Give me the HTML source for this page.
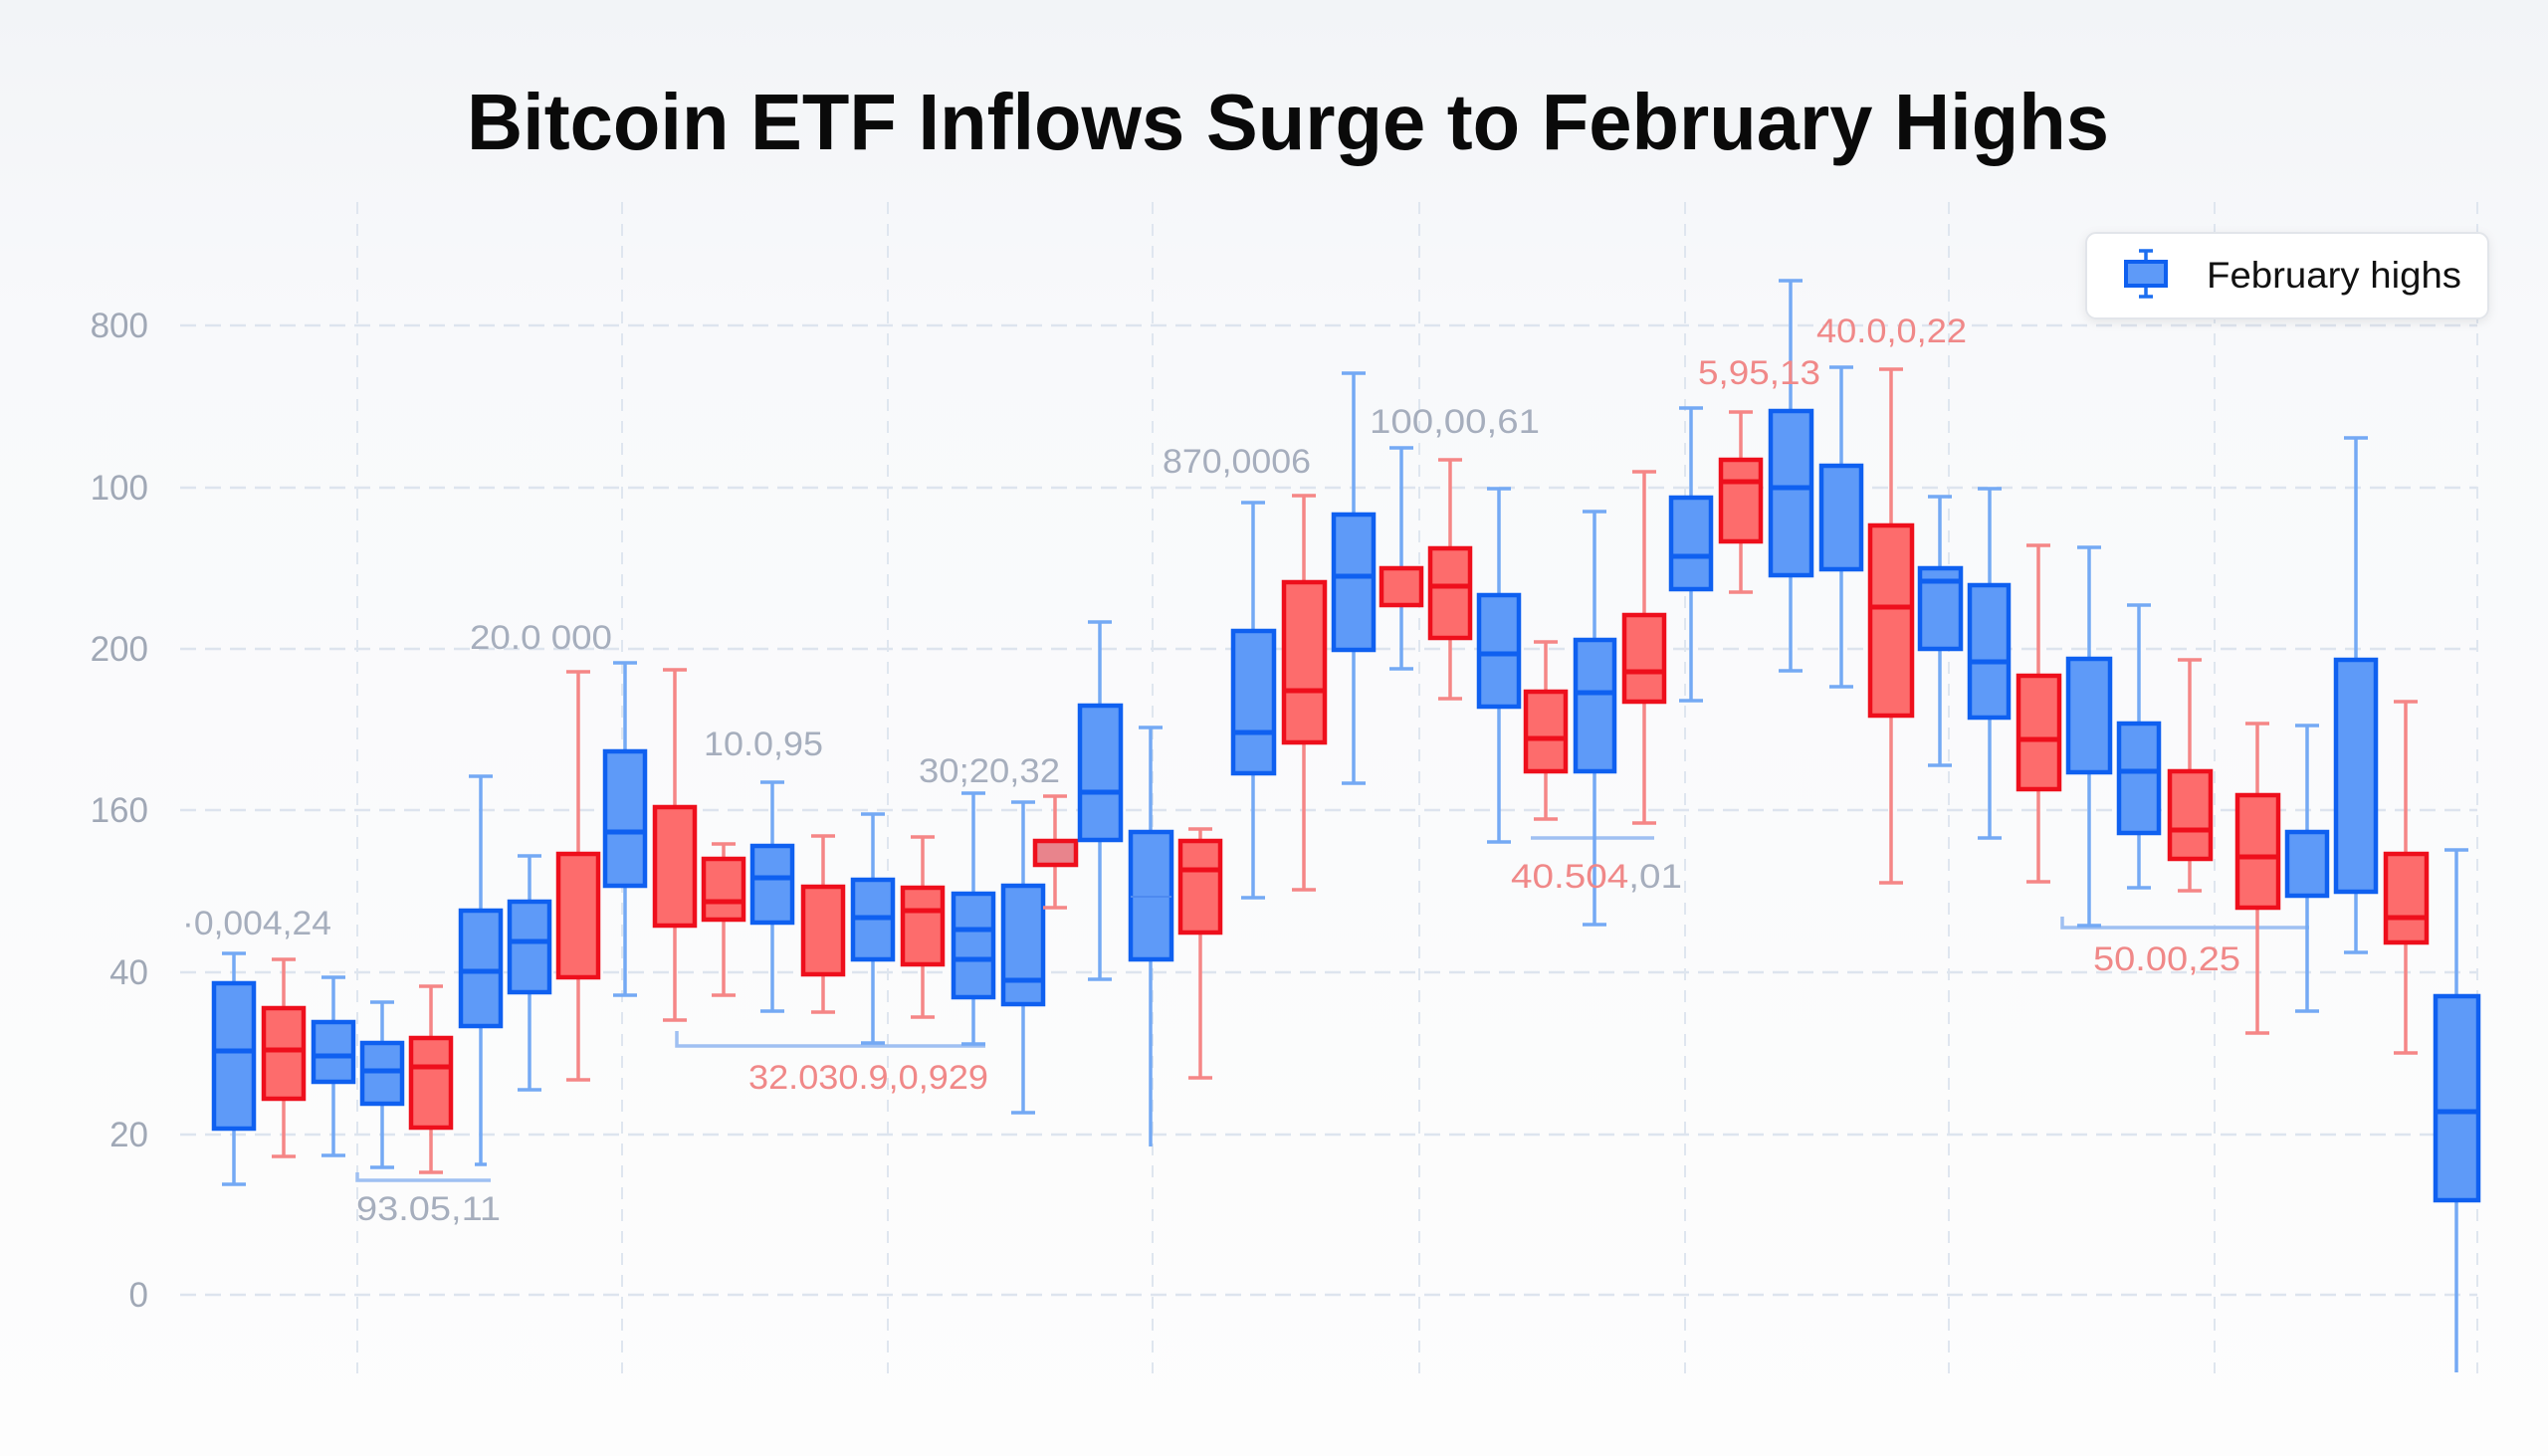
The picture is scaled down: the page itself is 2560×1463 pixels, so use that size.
<!DOCTYPE html>
<html>
<head>
<meta charset="utf-8">
<style>
html,body{margin:0;padding:0;background:#fafbfc;}
svg{display:block;}
.t{font-family:"Liberation Sans",sans-serif;}
.wb{stroke:#74a9f4;stroke-width:3.5;fill:none;}
.wr{stroke:#f58686;stroke-width:3.5;fill:none;}
.bb{fill:#5e9af8;stroke:#0f60f0;stroke-width:4.5;}
.br{fill:#fd6c6c;stroke:#ee0f1c;stroke-width:4.5;}
.mb{stroke:#0f60f0;stroke-width:5;}
.mr{stroke:#ee0f1c;stroke-width:5;}
.ag{fill:#a6aebd;font-size:34px;}
.ar{fill:#f08888;font-size:34px;}
.yl{fill:#a0a8b6;font-size:35px;text-anchor:end;}
.br2{stroke:#9fc0f2;stroke-width:3.5;fill:none;}
</style>
</head>
<body>
<svg width="2560" height="1463" viewBox="0 0 2560 1463" xmlns="http://www.w3.org/2000/svg">
<defs>
<linearGradient id="bg" x1="0" y1="0" x2="0" y2="1">
<stop offset="0" stop-color="#f2f4f7"/>
<stop offset="0.22" stop-color="#f8f9fb"/>
<stop offset="1" stop-color="#fdfdfd"/>
</linearGradient>
<filter id="sh" x="-10%" y="-20%" width="120%" height="150%">
<feDropShadow dx="0" dy="3" stdDeviation="5" flood-color="#000" flood-opacity="0.08"/>
</filter>
</defs>
<rect width="2560" height="1463" fill="url(#bg)"/>

<!-- Title -->
<text class="t" x="469" y="150" font-size="80" font-weight="bold" fill="#0a0a0a" textLength="1650" lengthAdjust="spacingAndGlyphs">Bitcoin ETF Inflows Surge to February Highs</text>

<!-- grid -->
<g stroke="#dde4ee" stroke-width="2.5" stroke-dasharray="16 9">
<line x1="181" y1="327" x2="2489" y2="327"/>
<line x1="181" y1="490" x2="2489" y2="490"/>
<line x1="181" y1="652" x2="2489" y2="652"/>
<line x1="181" y1="814" x2="2489" y2="814"/>
<line x1="181" y1="977" x2="2489" y2="977"/>
<line x1="181" y1="1140" x2="2489" y2="1140"/>
<line x1="181" y1="1301" x2="2489" y2="1301"/>
</g>
<g stroke="#dfe6ef" stroke-width="2" stroke-dasharray="12 10">
<line x1="359" y1="203" x2="359" y2="1380"/>
<line x1="625" y1="203" x2="625" y2="1380"/>
<line x1="892" y1="203" x2="892" y2="1380"/>
<line x1="1158" y1="203" x2="1158" y2="1380"/>
<line x1="1426" y1="203" x2="1426" y2="1380"/>
<line x1="1693" y1="203" x2="1693" y2="1380"/>
<line x1="1958" y1="203" x2="1958" y2="1380"/>
<line x1="2225" y1="203" x2="2225" y2="1380"/>
<line x1="2489" y1="203" x2="2489" y2="1380"/>
</g>

<!-- y labels -->
<g class="t yl">
<text x="149" y="339">800</text>
<text x="149" y="502">100</text>
<text x="149" y="664">200</text>
<text x="149" y="826">160</text>
<text x="149" y="989">40</text>
<text x="149" y="1152">20</text>
<text x="149" y="1313">0</text>
</g>

<!-- brackets -->
<path class="br2" d="M359 1178V1186H493"/>
<path class="br2" d="M680 1036V1051H990"/>
<path class="br2" d="M1538 842H1662"/>
<path class="br2" d="M2072 921V932H2320"/>

<!-- boxes -->
<g>
<path class="wb" d="M235 958V988M235 1134V1190M223 958h24M223 1190h24"/><rect class="bb" x="215" y="988" width="40" height="146"/><path class="mb" d="M215 1056h40"/>
<path class="wr" d="M285 964V1013M285 1104V1162M273 964h24M273 1162h24"/><rect class="br" x="265" y="1013" width="40" height="91"/><path class="mr" d="M265 1055h40"/>
<path class="wb" d="M335 982V1027M335 1087V1161M323 982h24M323 1161h24"/><rect class="bb" x="315" y="1027" width="40" height="60"/><path class="mb" d="M315 1061h40"/>
<path class="wb" d="M384 1007V1048M384 1109V1173M372 1007h24M372 1173h24"/><rect class="bb" x="364" y="1048" width="40" height="61"/><path class="mb" d="M364 1076h40"/>
<path class="wr" d="M433 991V1043M433 1133V1178M421 991h24M421 1178h24"/><rect class="br" x="413" y="1043" width="40" height="90"/><path class="mr" d="M413 1072h40"/>
<path class="wb" d="M483 780V915M483 1031V1170M471 780h24M477 1170h12"/><rect class="bb" x="463" y="915" width="40" height="116"/><path class="mb" d="M463 976h40"/>
<path class="wb" d="M532 860V906M532 997V1095M520 860h24M520 1095h24"/><rect class="bb" x="512" y="906" width="40" height="91"/><path class="mb" d="M512 946h40"/>
<path class="wr" d="M581 675V858M581 982V1085M569 675h24M569 1085h24"/><rect class="br" x="561" y="858" width="40" height="124"/>
<path class="wb" d="M628 666V755M628 890V1000M616 666h24M616 1000h24"/><rect class="bb" x="608" y="755" width="40" height="135"/><path class="mb" d="M608 836h40"/>
<path class="wr" d="M678 673V811M678 930V1025M666 673h24M666 1025h24"/><rect class="br" x="658" y="811" width="40" height="119"/>
<path class="wr" d="M727 848V863M727 924V1000M715 848h24M715 1000h24"/><rect class="br" x="707" y="863" width="40" height="61"/><path class="mr" d="M707 906h40"/>
<path class="wb" d="M776 786V850M776 927V1016M764 786h24M764 1016h24"/><rect class="bb" x="756" y="850" width="40" height="77"/><path class="mb" d="M756 882h40"/>
<path class="wr" d="M827 840V891M827 979V1017M815 840h24M815 1017h24"/><rect class="br" x="807" y="891" width="40" height="88"/>
<path class="wb" d="M877 818V884M877 964V1048M865 818h24M865 1048h24"/><rect class="bb" x="857" y="884" width="40" height="80"/><path class="mb" d="M857 922h40"/>
<path class="wr" d="M927 841V892M927 969V1022M915 841h24M915 1022h24"/><rect class="br" x="907" y="892" width="40" height="77"/><path class="mr" d="M907 915h40"/>
<path class="wb" d="M978 797V898M978 1002V1049M966 797h24M966 1049h24"/><rect class="bb" x="958" y="898" width="40" height="104"/><path class="mb" d="M958 934h40M958 964h40"/>
<path class="wb" d="M1028 806V890M1028 1009V1118M1016 806h24M1016 1118h24"/><rect class="bb" x="1008" y="890" width="40" height="119"/><path class="mb" d="M1008 985h40"/>
<path class="wr" d="M1060 800V845M1060 869V912M1048 800h24M1048 912h24"/><rect class="br" x="1040" y="845" width="41" height="24" style="fill:#e8848c"/>
<path class="wb" d="M1105 625V709M1105 844V984M1093 625h24M1093 984h24"/><rect class="bb" x="1085" y="709" width="41" height="135"/><path class="mb" d="M1085 796h41"/>
<path class="wb" d="M1156 731V836M1156 964V1152M1144 731h24"/><rect class="bb" x="1136" y="836" width="41" height="128"/><path class="mb" d="M1136 901h41" style="stroke:#4d8af0;stroke-width:2"/>
<path class="wr" d="M1206 833V845M1206 937V1083M1194 833h24M1194 1083h24"/><rect class="br" x="1186" y="845" width="40" height="92"/><path class="mr" d="M1186 874h40"/>
<path class="wb" d="M1259 505V634M1259 777V902M1247 505h24M1247 902h24"/><rect class="bb" x="1239" y="634" width="41" height="143"/><path class="mb" d="M1239 736h41"/>
<path class="wr" d="M1310 498V585M1310 746V894M1298 498h24M1298 894h24"/><rect class="br" x="1290" y="585" width="41" height="161"/><path class="mr" d="M1290 694h41"/>
<path class="wb" d="M1360 375V517M1360 653V787M1348 375h24M1348 787h24"/><rect class="bb" x="1340" y="517" width="40" height="136"/><path class="mb" d="M1340 579h40"/>
<path class="wb" d="M1408 450V571M1408 608V672M1396 450h24M1396 672h24"/><rect class="br" x="1388" y="571" width="40" height="37"/>
<path class="wr" d="M1457 462V551M1457 641V702M1445 462h24M1445 702h24"/><rect class="br" x="1437" y="551" width="40" height="90"/><path class="mr" d="M1437 589h40"/>
<path class="wb" d="M1506 491V598M1506 710V846M1494 491h24M1494 846h24"/><rect class="bb" x="1486" y="598" width="40" height="112"/><path class="mb" d="M1486 657h40"/>
<path class="wr" d="M1553 645V695M1553 775V823M1541 645h24M1541 823h24"/><rect class="br" x="1533" y="695" width="40" height="80"/><path class="mr" d="M1533 742h40"/>
<path class="wb" d="M1602 514V643M1602 775V929M1590 514h24M1590 929h24"/><rect class="bb" x="1583" y="643" width="39" height="132"/><path class="mb" d="M1583 696h39"/>
<path class="wr" d="M1652 474V618M1652 705V827M1640 474h24M1640 827h24"/><rect class="br" x="1632" y="618" width="40" height="87"/><path class="mr" d="M1632 675h40"/>
<path class="wb" d="M1699 410V500M1699 592V704M1687 410h24M1687 704h24"/><rect class="bb" x="1679" y="500" width="40" height="92"/><path class="mb" d="M1679 559h40"/>
<path class="wr" d="M1749 414V462M1749 544V595M1737 414h24M1737 595h24"/><rect class="br" x="1729" y="462" width="40" height="82"/><path class="mr" d="M1729 484h40"/>
<path class="wb" d="M1799 282V413M1799 578V674M1787 282h24M1787 674h24"/><rect class="bb" x="1779" y="413" width="41" height="165"/><path class="mb" d="M1779 490h41"/>
<path class="wb" d="M1850 369V468M1850 572V690M1838 369h24M1838 690h24"/><rect class="bb" x="1830" y="468" width="40" height="104"/>
<path class="wr" d="M1900 371V528M1900 719V887M1888 371h24M1888 887h24"/><rect class="br" x="1879" y="528" width="42" height="191"/><path class="mr" d="M1879 610h42"/>
<path class="wb" d="M1949 499V571M1949 652V769M1937 499h24M1937 769h24"/><rect class="bb" x="1929" y="571" width="41" height="81"/><path class="mb" d="M1929 584h41"/>
<path class="wb" d="M1999 491V588M1999 721V842M1987 491h24M1987 842h24"/><rect class="bb" x="1979" y="588" width="39" height="133"/><path class="mb" d="M1979 665h39"/>
<path class="wr" d="M2048 548V679M2048 793V886M2036 548h24M2036 886h24"/><rect class="br" x="2028" y="679" width="41" height="114"/><path class="mr" d="M2028 743h41"/>
<path class="wb" d="M2099 550V662M2099 776V930M2087 550h24M2087 930h24"/><rect class="bb" x="2078" y="662" width="42" height="114"/>
<path class="wb" d="M2149 608V727M2149 837V892M2137 608h24M2137 892h24"/><rect class="bb" x="2129" y="727" width="40" height="110"/><path class="mb" d="M2129 775h40"/>
<path class="wr" d="M2200 663V775M2200 863V895M2188 663h24M2188 895h24"/><rect class="br" x="2180" y="775" width="41" height="88"/><path class="mr" d="M2180 834h41"/>
<path class="wr" d="M2268 727V799M2268 912V1038M2256 727h24M2256 1038h24"/><rect class="br" x="2248" y="799" width="41" height="113"/><path class="mr" d="M2248 861h41"/>
<path class="wb" d="M2318 729V836M2318 900V1016M2306 729h24M2306 1016h24"/><rect class="bb" x="2298" y="836" width="40" height="64"/>
<path class="wb" d="M2367 440V663M2367 896V957M2355 440h24M2355 957h24"/><rect class="bb" x="2347" y="663" width="40" height="233"/>
<path class="wr" d="M2417 705V858M2417 947V1058M2405 705h24M2405 1058h24"/><rect class="br" x="2397" y="858" width="41" height="89"/><path class="mr" d="M2397 922h41"/>
<path class="wb" d="M2468 854V1001M2468 1206V1379M2456 854h24"/><rect class="bb" x="2447" y="1001" width="43" height="205"/><path class="mb" d="M2447 1117h43"/>
</g>

<!-- annotations -->
<g class="t">
<text class="ag" x="183" y="939" textLength="150" lengthAdjust="spacingAndGlyphs">·0,004,24</text>
<text class="ag" x="472" y="652" textLength="143" lengthAdjust="spacingAndGlyphs">20.0 000</text>
<text class="ag" x="358" y="1226" textLength="145" lengthAdjust="spacingAndGlyphs">93.05,11</text>
<text class="ag" x="707" y="759" textLength="120" lengthAdjust="spacingAndGlyphs">10.0,95</text>
<text class="ag" x="923" y="786" textLength="142" lengthAdjust="spacingAndGlyphs">30;20,32</text>
<text class="ar" x="752" y="1094" textLength="241" lengthAdjust="spacingAndGlyphs">32.030.9,0,929</text>
<text class="ag" x="1168" y="475" textLength="149" lengthAdjust="spacingAndGlyphs">870,0006</text>
<text class="ag" x="1376" y="435" textLength="171" lengthAdjust="spacingAndGlyphs">100,00,61</text>
<text class="ar" x="1706" y="386" textLength="123" lengthAdjust="spacingAndGlyphs">5,95,13</text>
<text class="ar" x="1825" y="344" textLength="151" lengthAdjust="spacingAndGlyphs">40.0,0,22</text>
<text class="ar" x="1518" y="892" textLength="172" lengthAdjust="spacingAndGlyphs">40.504<tspan fill="#a6aebd">,01</tspan></text>
<text class="ar" x="2103" y="975" textLength="148" lengthAdjust="spacingAndGlyphs">50.00,25</text>
</g>

<!-- legend -->
<rect x="2096" y="234" width="404" height="86" rx="10" fill="#ffffff" stroke="#e2e5ea" stroke-width="2" filter="url(#sh)"/>
<path d="M2156 252V263M2156 287V298M2149 252h14M2149 298h14" stroke="#1d6ff0" stroke-width="3.5" fill="none"/>
<rect x="2136" y="263" width="40" height="24" fill="#5e9af8" stroke="#0f60f0" stroke-width="4"/>
<text class="t" x="2217" y="289" font-size="37" fill="#111111" textLength="256" lengthAdjust="spacingAndGlyphs">February highs</text>
</svg>
</body>
</html>
